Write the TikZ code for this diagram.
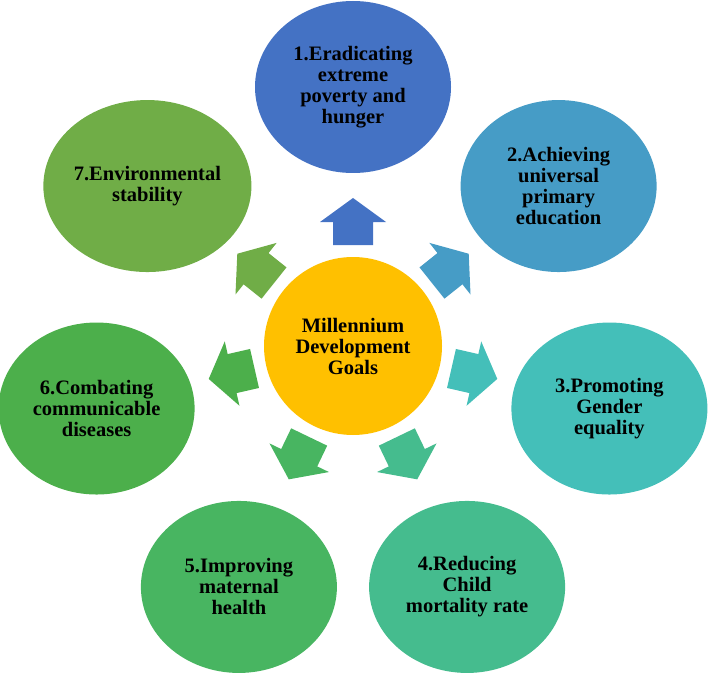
\documentclass[tikz,border=0pt]{standalone}
\usepackage{fontspec}
\setmainfont{Liberation Serif}
\usetikzlibrary{shapes.geometric}
\definecolor{cA}{HTML}{4472C4}
\definecolor{cB}{HTML}{469CC6}
\definecolor{cC}{HTML}{44BFB9}
\definecolor{cD}{HTML}{45BC8E}
\definecolor{cE}{HTML}{48B561}
\definecolor{cF}{HTML}{4CAF4B}
\definecolor{cG}{HTML}{70AD47}
\definecolor{cMid}{HTML}{FFC000}
\tikzset{
  goal/.style={ellipse, fill=#1, minimum width=196pt, minimum height=172pt, inner sep=0pt,
    align=center, font=\bfseries\fontsize{20.5}{21}\selectfont, text=black},
  hub/.style={circle, fill=cMid, minimum size=178pt, inner sep=0pt,
    align=center, font=\bfseries\fontsize{20.5}{21}\selectfont, text=black},
  blockarrow/.style={fill=#1}
}
\newcommand{\goalarrow}[2]{%
  \begin{scope}[shift={(hub.center)}, rotate=#1]
    \fill[blockarrow=#2] (101,20) -- (124,20) -- (124,33) -- (148,0) -- (124,-33) -- (124,-20) -- (101,-20) -- cycle;
  \end{scope}}
\begin{document}
\begin{tikzpicture}[x=1pt,y=-1pt]
\useasboundingbox (0,0) rectangle (708,676);
\node[hub] (hub) at (353,346) {Millennium\\Development\\Goals};
\def\R{263}
\def\cy{350}
\node[goal=cA] (g1) at ({353+\R*cos(90)},{\cy-\R*sin(90)}) {1.Eradicating\\extreme\\poverty and\\hunger};
\node[goal=cB] (g2) at ({353+\R*cos(38.571)},{\cy-\R*sin(38.571)}) {2.Achieving\\universal\\primary\\education};
\node[goal=cC] (g3) at ({353+\R*cos(-12.857)},{\cy-\R*sin(-12.857)}) {3.Promoting\\Gender\\equality};
\node[goal=cD] (g4) at ({353+\R*cos(-64.286)},{\cy-\R*sin(-64.286)}) {4.Reducing\\Child\\mortality rate};
\node[goal=cE] (g5) at ({353+\R*cos(-115.714)},{\cy-\R*sin(-115.714)}) {5.Improving\\maternal\\health};
\node[goal=cF] (g6) at ({353+\R*cos(-167.143)},{\cy-\R*sin(-167.143)}) {6.Combating\\communicable\\diseases};
\node[goal=cG] (g7) at ({353+\R*cos(141.429)},{\cy-\R*sin(141.429)}) {7.Environmental\\stability};
\goalarrow{90}{cA}
\goalarrow{38.571}{cB}
\goalarrow{-12.857}{cC}
\goalarrow{-64.286}{cD}
\goalarrow{-115.714}{cE}
\goalarrow{-167.143}{cF}
\goalarrow{141.429}{cG}
\end{tikzpicture}
\end{document}
